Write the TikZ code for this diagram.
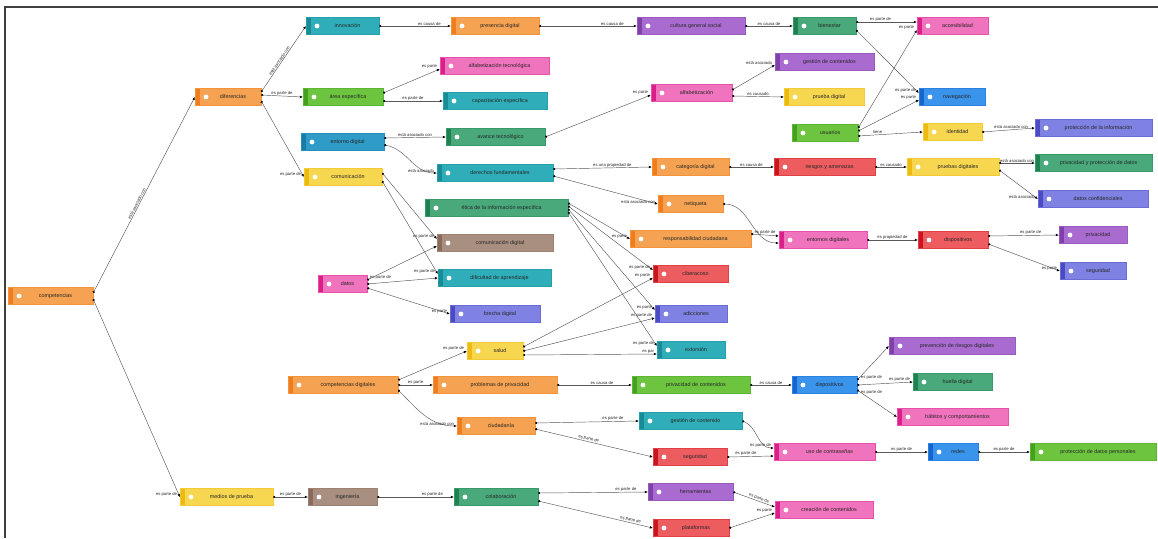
\documentclass[tikz,border=0pt]{standalone}
\usepackage{fontspec}
\setmainfont{Liberation Sans}
\usetikzlibrary{arrows.meta}
\definecolor{cOr}{HTML}{F5A352}\definecolor{cOrS}{HTML}{EF7D1E}
\definecolor{cTe}{HTML}{2FAEB9}\definecolor{cTeS}{HTML}{178C97}
\definecolor{cLi}{HTML}{6CC43F}\definecolor{cLiS}{HTML}{45A020}
\definecolor{cDg}{HTML}{49A97A}\definecolor{cDgS}{HTML}{1F8050}
\definecolor{cPu}{HTML}{A96BD0}\definecolor{cPuS}{HTML}{8040AA}
\definecolor{cPi}{HTML}{F073BD}\definecolor{cPiS}{HTML}{DB1F8A}
\definecolor{cYe}{HTML}{F7D650}\definecolor{cYeS}{HTML}{EDBA10}
\definecolor{cBl}{HTML}{3A94EC}\definecolor{cBlS}{HTML}{1565CC}
\definecolor{cRe}{HTML}{ED5D60}\definecolor{cReS}{HTML}{C9161E}
\definecolor{cBr}{HTML}{A98F80}\definecolor{cBrS}{HTML}{8A6B5B}
\definecolor{cPw}{HTML}{7F82E2}\definecolor{cPwS}{HTML}{4A4AC2}
\definecolor{cEb}{HTML}{2E9CC6}\definecolor{cEbS}{HTML}{1A7BA6}
\tikzset{
  cbox/.style={rectangle, fill=#1, draw=#1S!40!#1, line width=0.3pt,
    minimum height=17pt, inner sep=0pt, font=\fontsize{5.4}{6.5}\selectfont, text=black!85,
    path picture={\fill[#1S] (path picture bounding box.south west) rectangle ([xshift=5pt]path picture bounding box.north west);
      \fill[white] ([xshift=11pt]path picture bounding box.west) circle (2.4pt);}},
  con/.style={draw=black!65, line width=0.45pt, {Circle[length=2.2pt,black]}-{Latex[length=3pt,width=2.6pt,black]}},
  lab/.style={font=\fontsize{4.2}{4.7}\selectfont, text=black!85, inner sep=0.6pt},
  lend/.style={lab, pos=1, anchor=south east, xshift=-2pt},
}
\newcommand\cb[6]{\node[cbox=#5, minimum width=#4pt] (#1) at (#2,#3) {\hspace*{10pt}#6};}
\begin{document}
\begin{tikzpicture}[x=1pt,y=-1pt]
\fill[white] (0,0) rectangle (1158,538);
\useasboundingbox (0,0) rectangle (1158,538);
\draw[black!75, line width=1.5pt] (5,538) -- (5,7) -- (1158,7);
% nodes
\cb{root}{50.5}{296}{85}{cOr}{competencias}
\cb{dif}{228}{97}{66}{cOr}{diferencias}
\cb{inno}{342.5}{26}{73}{cTe}{innovación}
\cb{pres}{495}{26}{88}{cOr}{presencia digital}
\cb{cult}{691}{26}{108}{cPu}{cultura general social}
\cb{bien}{824.5}{26}{63}{cDg}{bienestar}
\cb{acce}{952.5}{26}{71}{cPi}{accesibilidad}
\cb{alft}{494.5}{66}{109}{cPi}{alfabetización tecnológica}
\cb{area}{343}{97}{80}{cLi}{área específica}
\cb{capa}{495}{101}{104}{cTe}{capacitación específica}
\cb{gcon}{824.5}{62}{99}{cPu}{gestión de contenidos}
\cb{alfa}{691.5}{93}{81}{cPi}{alfabetización}
\cb{prue}{824}{97}{80}{cYe}{prueba digital}
\cb{nave}{952}{97}{66}{cBl}{navegación}
\cb{usua}{825}{133}{66}{cLi}{usuarios}
\cb{iden}{952.5}{132}{59}{cYe}{identidad}
\cb{prot}{1093.5}{128}{117}{cPw}{protección de la información}
\cb{ento}{342.5}{142}{83}{cEb}{entorno digital}
\cb{avan}{495.5}{137}{99}{cDg}{avance tecnológico}
\cb{comu}{343}{177}{78}{cYe}{comunicación}
\cb{dere}{495}{173}{116}{cTe}{derechos fundamentales}
\cb{cate}{690.5}{167}{77}{cOr}{categoría digital}
\cb{ries}{824.5}{167}{101}{cRe}{riesgos y amenazas}
\cb{prdg}{953}{167}{92}{cYe}{pruebas digitales}
\cb{priv}{1093.5}{163}{117}{cDg}{privacidad y protección de datos}
\cb{datc}{1093}{199}{110}{cPw}{datos confidenciales}
\cb{etic}{496.5}{208}{143}{cDg}{ética de la información específica}
\cb{netq}{690.5}{204}{65}{cOr}{netiqueta}
\cb{resp}{690.5}{239}{121}{cOr}{responsabilidad ciudadana}
\cb{entd}{823}{240}{88}{cPi}{entornos digitales}
\cb{disp}{953}{240}{70}{cRe}{dispositivos}
\cb{prva}{1093}{235}{68}{cPu}{privacidad}
\cb{segu}{1093}{271}{66}{cPw}{seguridad}
\cb{cdig}{495}{243}{116}{cBr}{comunicación digital}
\cb{dato}{342.5}{284}{49}{cPi}{datos}
\cb{difi}{494.5}{278}{113}{cTe}{dificultad de aprendizaje}
\cb{brec}{495}{314}{90}{cPw}{brecha digital}
\cb{plag}{690.5}{274}{75}{cRe}{ciberacoso}
\cb{adic}{691}{314}{72}{cPw}{adicciones}
\cb{exto}{691}{350}{68}{cTe}{extorsión}
\cb{salu}{495}{351}{56}{cYe}{salud}
\cb{cdg2}{343}{385}{110}{cOr}{competencias digitales}
\cb{prob}{495}{385}{124}{cOr}{problemas de privacidad}
\cb{pcon}{691}{385}{118}{cLi}{privacidad de contenidos}
\cb{dsp2}{824.5}{385}{65}{cBl}{dispositivos}
\cb{prev}{952}{346}{126}{cPu}{prevención de riesgos digitales}
\cb{huel}{952.5}{382}{79}{cDg}{huella digital}
\cb{habi}{952.5}{417}{111}{cPi}{hábitos y comportamientos}
\cb{ciud}{496}{426}{78}{cOr}{ciudadanía}
\cb{gest}{690.5}{421}{103}{cTe}{gestión de contenido}
\cb{segr}{690}{457}{74}{cRe}{seguridad}
\cb{usoc}{824.5}{452}{101}{cPi}{uso de contraseñas}
\cb{rede}{953}{452}{50}{cBl}{redes}
\cb{prpd}{1093}{452}{126}{cLi}{protección de datos personales}
\cb{medi}{226.5}{497}{93}{cYe}{medios de prueba}
\cb{inge}{342.5}{497}{69}{cBr}{ingeniería}
\cb{cola}{496}{497}{84}{cDg}{colaboración}
\cb{herr}{690.5}{492}{85}{cPu}{herramientas}
\cb{crea}{824}{510}{98}{cPi}{creación de contenidos}
\cb{plat}{691}{528}{76}{cRe}{plataformas}
% connectors
\draw[con] ([yshift=3pt]root.east) -- node[lab,sloped,above,pos=.45]{está asociado con} (dif.west);
\draw[con] ([yshift=-3pt]root.east) -- node[lend]{es parte de} (medi.west);
\draw[con] ([yshift=5pt]dif.east) -- node[lab,sloped,above,pos=.45]{está asociado con} (inno.west);
\draw[con] ([yshift=2pt]dif.east) -- node[lab,above,pos=.5]{es parte de} (area.west);
\draw[con] ([yshift=-4pt]dif.east) -- node[lend]{es parte de} (comu.west);
\draw[con] (inno.east) -- node[lab,above,pos=.7]{es causa de} (pres.west);
\draw[con] (pres.east) -- node[lab,above,pos=.75]{es causa de} (cult.west);
\draw[con] (cult.east) -- node[lab,above,pos=.5]{es causa de} (bien.west);
\draw[con] ([yshift=4pt]bien.east) -- node[lab,above,pos=.4]{es parte de} ([yshift=4pt]acce.west);
\draw[con] ([yshift=-4pt]bien.east) -- node[lend]{es parte de} ([yshift=4pt]nave.west);
\draw[con] ([yshift=5pt]usua.east) -- node[lend]{es parte} ([yshift=-4pt]acce.west);
\draw[con] ([yshift=2pt]usua.east) -- node[lend]{es parte} ([yshift=-3pt]nave.west);
\draw[con] ([yshift=-3pt]usua.east) -- node[lab,above,pos=.3]{tiene} (iden.west);
\draw[con] (iden.east) -- node[lab,above,pos=.55]{está asociado con} (prot.west);
\draw[con] ([yshift=4pt]area.east) -- node[lend]{es parte} ([yshift=-3pt]alft.west);
\draw[con] ([yshift=-4pt]area.east) -- node[lab,above,pos=.5]{es parte de} (capa.west);
\draw[con] ([yshift=4pt]ento.east) -- node[lab,above,pos=.5]{está asociado con} (avan.west);
\draw[con] ([yshift=-3pt]ento.east) to[out=-10,in=180] node[lend]{está asociado} (dere.west);
\draw[con] (avan.east) -- node[lend]{es parte} ([yshift=-2pt]alfa.west);
\draw[con] ([yshift=3pt]alfa.east) -- node[lend]{está asociado} ([yshift=-3pt]gcon.west);
\draw[con] ([yshift=-3pt]alfa.east) -- node[lab,above,pos=.5]{es causado} (prue.west);
\draw[con] ([yshift=4pt]dere.east) -- node[lab,above,pos=.6]{es una propiedad de} (cate.west);
\draw[con] ([yshift=-3pt]dere.east) -- node[lend]{está asociado con} (netq.west);
\draw[con] (cate.east) -- node[lab,above,pos=.5]{es causa de} (ries.west);
\draw[con] (ries.east) -- node[lab,above,pos=.5]{es causado} (prdg.west);
\draw[con] ([yshift=4pt]prdg.east) -- node[lab,above,pos=.5]{está asociado con} (priv.west);
\draw[con] ([yshift=-3pt]prdg.east) -- node[lend]{está asociado} (datc.west);
\draw[con] (netq.east) to[out=0,in=180] ([yshift=-3pt]entd.west);
\draw[con] ([yshift=5pt]resp.east) -- node[lab,above,pos=.5]{es parte de} ([yshift=4pt]entd.west);
\draw[con] (entd.east) -- node[lab,above,pos=.5]{es propiedad de} (disp.west);
\draw[con] ([yshift=4pt]disp.east) -- node[lab,above,pos=.6]{es parte de} (prva.west);
\draw[con] ([yshift=-4pt]disp.east) -- node[lend]{es parte} (segu.west);
\draw[con] ([yshift=4pt]comu.east) -- node[lend]{es parte de} ([yshift=4pt]cdig.west);
\draw[con] ([yshift=-4pt]comu.east) -- node[lend]{es parte de} ([yshift=4pt]difi.west);
\draw[con] ([yshift=4pt]dato.east) -- node[lab,pos=0,anchor=south west,xshift=2pt]{es parte de} ([yshift=-3pt]cdig.west);
\draw[con] (dato.east) -- (difi.west);
\draw[con] ([yshift=-4pt]dato.east) -- node[lend]{es parte} (brec.west);
\draw[con] ([yshift=5pt]etic.east) -- node[lend]{es parte} (resp.west);
\draw[con] ([yshift=2pt]etic.east) -- node[lend]{es parte de} ([yshift=4pt]plag.west);
\draw[con] ([yshift=-1pt]etic.east) -- node[lend]{es parte} ([yshift=4pt]adic.west);
\draw[con] ([yshift=-4pt]etic.east) -- node[lend]{es parte de} ([yshift=4pt]exto.west);
\draw[con] ([yshift=4pt]salu.east) -- node[lend]{es parte} ([yshift=-4pt]plag.west);
\draw[con] (salu.east) -- node[lend]{es parte de} ([yshift=-4pt]adic.west);
\draw[con] ([yshift=-4pt]salu.east) -- node[lend]{es par} ([yshift=-4pt]exto.west);
\draw[con] ([yshift=5pt]cdg2.east) -- node[lend]{es parte de} (salu.west);
\draw[con] (cdg2.east) -- node[lab,above,pos=.5]{es parte} (prob.west);
\draw[con] ([yshift=-5pt]cdg2.east) to[out=-45,in=180] node[lend]{está asociado con} (ciud.west);
\draw[con] (prob.east) -- node[lab,above,pos=.6]{es causa de} (pcon.west);
\draw[con] (pcon.east) -- node[lab,above,pos=.5]{es causa de} (dsp2.west);
\draw[con] ([yshift=5pt]dsp2.east) -- node[lab,pos=0,anchor=south west,xshift=3pt]{es parte de} (prev.west);
\draw[con] (dsp2.east) -- node[lend]{es parte de} (huel.west);
\draw[con] ([yshift=-5pt]dsp2.east) -- node[lab,pos=0,anchor=north west,xshift=3pt]{es parte de} (habi.west);
\draw[con] ([yshift=3pt]ciud.east) -- node[lab,above,pos=.75]{es parte de} (gest.west);
\draw[con] ([yshift=-3pt]ciud.east) -- node[lab,sloped,above,pos=.45]{es parte de} (segr.west);
\draw[con] (gest.east) to[out=-20,in=180] node[lend]{es parte de} ([yshift=4pt]usoc.west);
\draw[con] (segr.east) -- node[lab,above,pos=.4]{es parte de} ([yshift=-4pt]usoc.west);
\draw[con] (usoc.east) -- node[lab,above,pos=.5]{es parte de} (rede.west);
\draw[con] (rede.east) -- node[lab,above,pos=.5]{es parte de} (prpd.west);
\draw[con] (medi.east) -- node[lab,above,pos=.5]{es parte de} (inge.west);
\draw[con] (inge.east) -- node[lab,above,pos=.72]{es parte de} (cola.west);
\draw[con] ([yshift=4pt]cola.east) -- node[lab,above,pos=.8]{es parte de} (herr.west);
\draw[con] ([yshift=-4pt]cola.east) -- node[lab,sloped,above,pos=.8]{es parte de} (plat.west);
\draw[con] (herr.east) -- node[lab,sloped,above,pos=.6]{es parte de} ([yshift=3pt]crea.west);
\draw[con] (plat.east) -- node[lend]{es parte} ([yshift=-3pt]crea.west);
\end{tikzpicture}
\end{document}
